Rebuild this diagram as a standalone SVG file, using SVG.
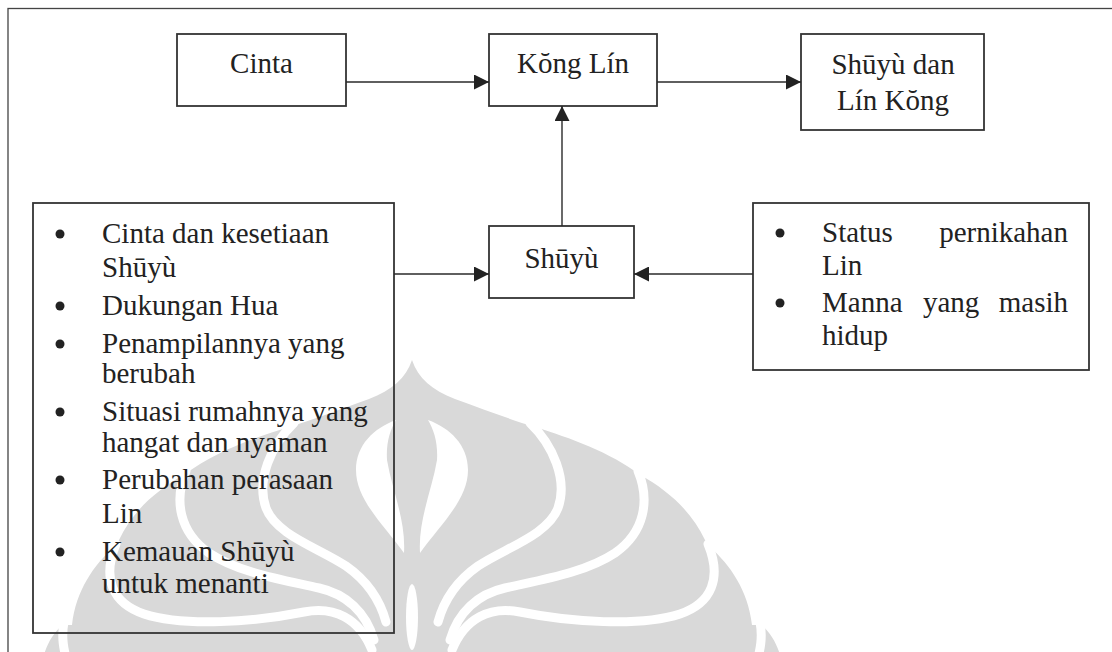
<svg xmlns="http://www.w3.org/2000/svg" xmlns:xlink="http://www.w3.org/1999/xlink" width="1112" height="652" viewBox="0 0 1112 652">
  <style>
    .frame { fill: none; stroke: #444; stroke-width: 1.3; }
    .box { fill: none; stroke: #333; stroke-width: 1.8; }
    .txt { font-family: "Liberation Serif", "Times New Roman", serif; font-size: 29px; fill: #222; }
    .mid { text-anchor: middle; }
    .end { text-anchor: end; }
    .bullet { fill: #222; }
    .link { fill: none; stroke: #2a2a2a; stroke-width: 1.4; marker-end: url(#arrow); }
    .mark { fill: #d9d9d9; }
    .cut { fill: none; stroke: #fff; stroke-width: 9; stroke-linecap: round; }
    .hole { fill: #fff; }
  </style>
  <defs>
    <marker id="arrow" markerUnits="userSpaceOnUse" markerWidth="15" markerHeight="15" refX="15" refY="7.5" orient="auto">
      <path d="M0,0 L15,7.5 L0,15 Z" fill="#222"/>
    </marker>
    <!-- one half of the emblem's cut-outs; the other half is its mirror image -->
    <g id="emblem-half">
      <path class="cut" d="M530,423 C553,445 568,480 558,508 C548,535 505,548 478,566 C458,580 444,600 438,622"/>
      <path class="cut" d="M638,471 C650,500 645,532 615,553 C585,573 540,580 505,588 C478,594 458,612 450,640"/>
      <path class="cut" d="M708,544 C722,578 712,603 680,614 C640,627 570,622 520,612 C490,606 465,618 452,650"/>
      <path class="cut" d="M760,622 C763,638 760,650 757,662"/>
      <path class="hole" d="M428,420 C450,428 468,445 468,470 C468,500 440,525 420,553 C418,520 432,490 437,460 C438,443 434,430 428,420 Z"/>
    </g>
  </defs>

  <!-- background emblem -->
  <g id="emblem">
    <path class="mark" d="M412,360 C418,378 432,390 455,399 C485,410 512,420 535,427 C570,438 610,452 640,475 C668,490 692,512 705,540 L710,547 C730,565 748,590 752,625 L762,625 C772,635 778,645 782,662 L42,662 C46,645 52,635 62,625 L72,625 C76,590 94,565 114,547 L119,540 C132,512 156,490 184,475 C214,452 254,438 289,427 C312,420 339,410 369,399 C392,390 406,378 412,360 Z"/>
    <use xlink:href="#emblem-half"/>
    <use xlink:href="#emblem-half" transform="matrix(-1 0 0 1 824 0)"/>
    <ellipse class="hole" cx="412" cy="617" rx="6" ry="33"/>
  </g>

  <!-- page frame -->
  <rect class="frame" x="8" y="8.5" width="1120" height="660"/>

  <g id="cinta">
    <rect class="box" x="177" y="34" width="169" height="72"/>
    <text class="txt mid" x="261.5" y="72.5">Cinta</text>
  </g>

  <g id="kong-lin">
    <rect class="box" x="489" y="34" width="168" height="72"/>
    <text class="txt mid" x="573" y="72.5">Kŏng Lín</text>
  </g>

  <g id="shuyu-lin">
    <rect class="box" x="801" y="34" width="183" height="96"/>
    <text class="txt mid" x="893" y="74">Shūyù dan</text>
    <text class="txt mid" x="893" y="110">Lín Kŏng</text>
  </g>

  <g id="shuyu">
    <rect class="box" x="489" y="226" width="145" height="72"/>
    <text class="txt mid" x="561.5" y="267.5">Shūyù</text>
  </g>

  <g id="supporting">
    <rect class="box" x="33" y="203" width="361" height="430"/>
    <circle class="bullet" cx="60" cy="234" r="4.5"/>
    <circle class="bullet" cx="60" cy="306" r="4.5"/>
    <circle class="bullet" cx="60" cy="344" r="4.5"/>
    <circle class="bullet" cx="60" cy="412" r="4.5"/>
    <circle class="bullet" cx="60" cy="480" r="4.5"/>
    <circle class="bullet" cx="60" cy="552" r="4.5"/>
    <text class="txt" x="102" y="243">Cinta dan kesetiaan</text>
    <text class="txt" x="102" y="277">Shūyù</text>
    <text class="txt" x="102" y="315">Dukungan Hua</text>
    <text class="txt" x="102" y="353">Penampilannya yang</text>
    <text class="txt" x="102" y="383">berubah</text>
    <text class="txt" x="102" y="421">Situasi rumahnya yang</text>
    <text class="txt" x="102" y="452">hangat dan nyaman</text>
    <text class="txt" x="102" y="489">Perubahan perasaan</text>
    <text class="txt" x="102" y="523">Lin</text>
    <text class="txt" x="102" y="561">Kemauan Shūyù</text>
    <text class="txt" x="102" y="593">untuk menanti</text>
  </g>

  <g id="obstacles">
    <rect class="box" x="753" y="203" width="336" height="167"/>
    <circle class="bullet" cx="780" cy="233" r="4.5"/>
    <circle class="bullet" cx="780" cy="303" r="4.5"/>
    <text class="txt" x="822" y="242">Status</text>
    <text class="txt end" x="1068" y="242">pernikahan</text>
    <text class="txt" x="822" y="275">Lin</text>
    <text class="txt" x="822" y="312">Manna</text>
    <text class="txt" x="923" y="312">yang</text>
    <text class="txt end" x="1068" y="312">masih</text>
    <text class="txt" x="822" y="345">hidup</text>
  </g>

  <g id="connectors">
    <line class="link" x1="346" y1="82" x2="489" y2="82"/>
    <line class="link" x1="657" y1="82" x2="801" y2="82"/>
    <line class="link" x1="562" y1="226" x2="562" y2="106"/>
    <line class="link" x1="394" y1="274" x2="489" y2="274"/>
    <line class="link" x1="753" y1="274" x2="634" y2="274"/>
  </g>
</svg>
